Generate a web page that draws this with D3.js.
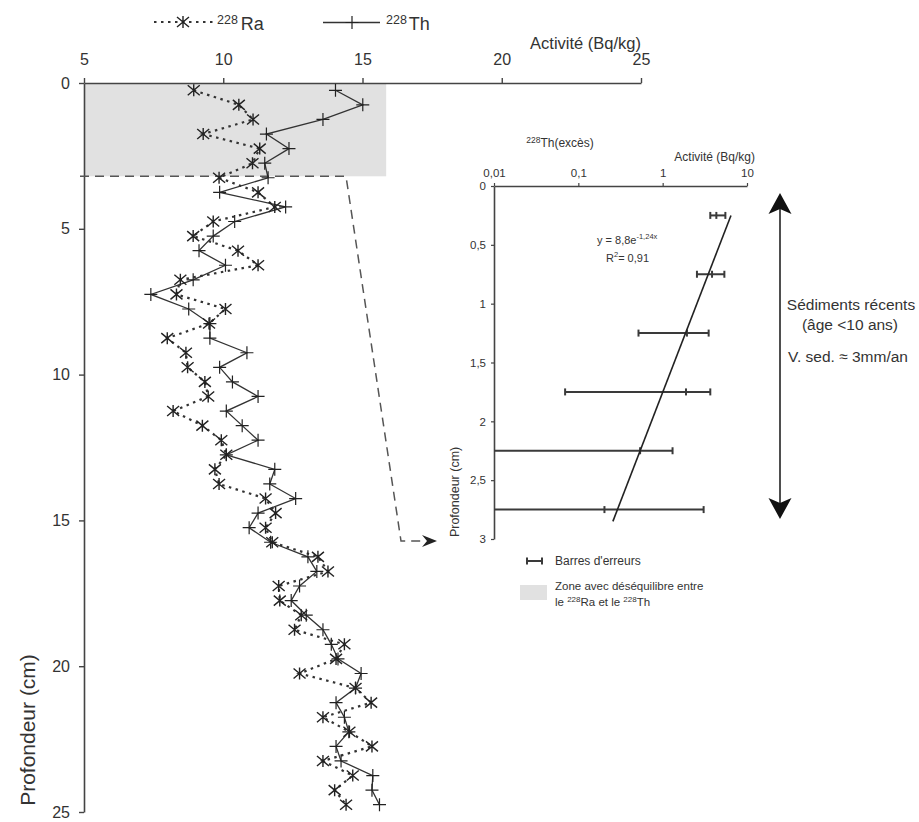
<!DOCTYPE html>
<html><head><meta charset="utf-8">
<script src="https://cdn.jsdelivr.net/npm/d3@7"></script>
<style>
body{margin:0;background:#fff}
svg{display:block}
text{font-family:"Liberation Sans",Arial,Helvetica,sans-serif;fill:#333}
</style>
</head><body>
<svg id="c" width="919" height="822"></svg>
<script>
// ---------- main profile data ----------
const depths = [0.25,0.75,1.25,1.75,2.25,2.75,3.25,3.75,4.25,4.75,5.25,5.75,6.25,6.75,7.25,7.75,8.25,8.75,9.25,9.75,
  10.25,10.75,11.25,11.75,12.25,12.75,13.25,13.75,14.25,14.75,15.25,15.75,16.25,16.75,17.25,17.75,18.25,18.75,19.25,19.75,
  20.25,20.75,21.25,21.75,22.25,22.75,23.25,23.75,24.25,24.75];
const ra228 = [8.94,10.56,11.07,9.28,11.31,11.05,9.85,11.25,11.85,9.64,8.92,10.53,11.25,8.46,8.32,10.08,9.49,7.99,8.66,8.72,
  9.34,9.46,8.20,9.25,9.93,10.11,9.70,9.85,11.52,11.88,11.52,11.76,13.40,13.76,11.99,12.03,12.80,12.56,14.35,14.05,
  12.74,14.75,15.31,13.58,14.53,15.34,13.58,14.65,14.00,14.41];
const th228 = [14.03,15.01,13.58,11.55,12.36,11.49,11.61,9.87,12.24,10.41,9.64,9.13,10.08,8.92,7.40,8.76,9.52,9.52,10.85,9.87,
  10.33,11.25,10.11,10.68,11.25,10.11,11.85,11.67,12.60,11.25,10.93,11.70,13.04,13.36,12.74,12.44,12.98,13.58,13.88,14.12,
  14.95,14.75,14.05,14.35,14.51,14.05,14.23,15.37,15.34,15.61];
const xTicks = [5,10,15,20,25];
const yTicks = [0,5,10,15,20,25];
const zoneDepth = 3.2;       // grey zone bottom (cm)
const zoneActivity = 15.85;  // grey zone right edge (Bq/kg)

// ---------- inset: 228Th excess ----------
const excDepth = [0.25,0.75,1.25,1.75,2.25,2.75];
const excValue = [4.33,3.85,1.94,1.89,0.54,0.204];
const excLow   = [3.67,2.55,0.517,0.0697,null,null];   // null: below axis minimum
const excHigh  = [5.54,5.39,3.51,3.67,1.31,3.06];
const fitA = 8.8, fitB = -1.24;
const fitDepths = [0.25,2.85];
const insetXTicks = [0.01,0.1,1,10];
const insetXLabels = ["0,01","0,1","1","10"];
const insetYTicks = [0,0.5,1,1.5,2,2.5,3];
const insetYLabels = ["0","0,5","1","1,5","2","2,5","3"];

const svg = d3.select("#c");
const ink = "#333";

// ---------- main scales ----------
const x = d3.scaleLinear().domain([5,25]).range([84,641]);
const y = d3.scaleLinear().domain([0,25]).range([83,812]);

// grey zone
svg.append("rect")
  .attr("x", x(5)).attr("y", y(0))
  .attr("width", x(zoneActivity)-x(5)).attr("height", y(zoneDepth)-y(0))
  .attr("fill","#e1e1e1");

// axes
const gx = svg.append("g").attr("transform",`translate(0,${y(0)})`)
  .call(d3.axisTop(x).tickValues(xTicks).tickSize(5).tickSizeOuter(0).tickPadding(13));
const gy = svg.append("g").attr("transform",`translate(${x(5)},0)`)
  .call(d3.axisLeft(y).tickValues(yTicks).tickSize(5).tickSizeOuter(0).tickPadding(9));
[gx,gy].forEach(g=>{
  g.select(".domain").attr("stroke","#444").attr("stroke-width",1.6);
  g.selectAll(".tick line").attr("stroke","#444").attr("stroke-width",1.4);
  g.selectAll(".tick text").attr("fill",ink).style("font-size","16px").style("font-family",'"Liberation Sans",Arial,sans-serif');
});

svg.append("text").attr("x",641).attr("y",49).attr("text-anchor","end")
  .style("font-size","16.5px").text("Activité (Bq/kg)");
svg.append("text").attr("transform","translate(35,730) rotate(-90)").attr("text-anchor","middle")
  .style("font-size","21px").text("Profondeur (cm)");

// dashed connector to the inset
const ix = d3.scaleLog().domain([0.01,10]).range([494,747]);
const iy = d3.scaleLinear().domain([0,3]).range([186,539]);
const cx0 = 346, cyTop = y(zoneDepth), cyBot = iy(3)+2;
svg.append("path")
  .attr("d",`M${x(5)-4},${cyTop} L${cx0},${cyTop} L${cx0+55},${cyBot} L${ix(0.01)-71},${cyBot}`)
  .attr("fill","none").attr("stroke","#555").attr("stroke-width",1.5).attr("stroke-dasharray","9,6");
{
  const tx = ix(0.01)-57, ty = cyBot;
  svg.append("path").attr("d",`M${tx},${ty} L${tx-15},${ty-6} L${tx-10},${ty} L${tx-15},${ty+6} Z`).attr("fill","#222");
}

// lines
const pts = (arr)=>arr.map((v,i)=>[v,depths[i]]);
const line = d3.line().x(d=>x(d[0])).y(d=>y(d[1]));
svg.append("path").attr("d",line(pts(ra228))).attr("fill","none")
  .attr("stroke",ink).attr("stroke-width",2.2).attr("stroke-dasharray","2.5,4.5");
svg.append("path").attr("d",line(pts(th228))).attr("fill","none")
  .attr("stroke",ink).attr("stroke-width",1.3);

// markers
function star(g){ g.append("path").attr("d","M-6,-5L6,5M-6,5L6,-5M0,-6L0,6").attr("stroke","#222").attr("stroke-width",1.4).attr("fill","none"); }
function plus(g){ g.append("path").attr("d","M-6.5,0L6.5,0M0,-6.5L0,6.5").attr("stroke","#222").attr("stroke-width",1.2).attr("fill","none"); }
svg.append("g").selectAll("g").data(pts(ra228)).join("g")
  .attr("transform",d=>`translate(${x(d[0])},${y(d[1])})`).each(function(){star(d3.select(this));});
svg.append("g").selectAll("g").data(pts(th228)).join("g")
  .attr("transform",d=>`translate(${x(d[0])},${y(d[1])})`).each(function(){plus(d3.select(this));});

// main legend
{
  const lg = svg.append("g");
  lg.append("line").attr("x1",154).attr("x2",213).attr("y1",22).attr("y2",22)
    .attr("stroke",ink).attr("stroke-width",2.2).attr("stroke-dasharray","2.5,4.5");
  star(lg.append("g").attr("transform","translate(183,22)"));
  const t1 = lg.append("text").attr("x",217).attr("y",30);
  t1.append("tspan").attr("dy",-6).style("font-size","12.5px").text("228");
  t1.append("tspan").attr("dx",3).attr("dy",6).style("font-size","18px").text("Ra");
  lg.append("line").attr("x1",323).attr("x2",380).attr("y1",22.5).attr("y2",22.5)
    .attr("stroke",ink).attr("stroke-width",1.3);
  plus(lg.append("g").attr("transform","translate(352,22.5)"));
  const t2 = lg.append("text").attr("x",386).attr("y",30);
  t2.append("tspan").attr("dy",-6).style("font-size","12.5px").text("228");
  t2.append("tspan").attr("dx",2).attr("dy",6).style("font-size","18px").text("Th");
}

// ---------- inset ----------
const igx = svg.append("g").attr("transform",`translate(0,${iy(0)})`)
  .call(d3.axisTop(ix).tickValues(insetXTicks).tickFormat((d,i)=>insetXLabels[i]).tickSize(3).tickSizeOuter(0).tickPadding(6));
const igy = svg.append("g").attr("transform",`translate(${ix(0.01)},0)`)
  .call(d3.axisLeft(iy).tickValues(insetYTicks).tickFormat((d,i)=>insetYLabels[i]).tickSize(3).tickSizeOuter(0).tickPadding(5));
[igx,igy].forEach(g=>{
  g.select(".domain").attr("stroke","#444").attr("stroke-width",1.6);
  g.selectAll(".tick line").attr("stroke","#444").attr("stroke-width",1.2);
  g.selectAll(".tick text").attr("fill",ink).style("font-size","11.5px").style("font-family",'"Liberation Sans",Arial,sans-serif');
});
{
  const t = svg.append("text").attr("x",560).attr("y",147).attr("text-anchor","middle");
  t.append("tspan").attr("dy",-4).style("font-size","8.5px").text("228");
  t.append("tspan").attr("dy",4).style("font-size","12px").text("Th(excès)");
}
svg.append("text").attr("x",755).attr("y",161).attr("text-anchor","end").style("font-size","12px").text("Activité (Bq/kg)");
svg.append("text").attr("transform",`translate(459,${iy(2.6)}) rotate(-90)`).attr("text-anchor","middle")
  .style("font-size","12.5px").text("Profondeur (cm)");

// error bars
const eb = svg.append("g").attr("stroke","#3a3a3a").attr("stroke-width",2).attr("fill","none");
excDepth.forEach((d,i)=>{
  const yy = iy(d);
  const lo = excLow[i]===null ? ix.range()[0] : ix(excLow[i]);
  const hi = ix(excHigh[i]);
  eb.append("line").attr("x1",lo).attr("x2",hi).attr("y1",yy).attr("y2",yy);
  if (excLow[i]!==null) eb.append("line").attr("x1",lo).attr("x2",lo).attr("y1",yy-3.5).attr("y2",yy+3.5);
  eb.append("line").attr("x1",hi).attr("x2",hi).attr("y1",yy-3.5).attr("y2",yy+3.5);
  eb.append("line").attr("x1",ix(excValue[i])).attr("x2",ix(excValue[i])).attr("y1",yy-3.5).attr("y2",yy+3.5);
});
// fitted exponential (straight on log axis)
svg.append("line")
  .attr("x1",ix(fitA*Math.exp(fitB*fitDepths[0]))).attr("y1",iy(fitDepths[0]))
  .attr("x2",ix(fitA*Math.exp(fitB*fitDepths[1]))).attr("y2",iy(fitDepths[1]))
  .attr("stroke","#222").attr("stroke-width",1.6);
{
  const e = svg.append("text").attr("x",597).attr("y",244).style("font-size","11px");
  e.append("tspan").text("y = 8,8e");
  e.append("tspan").attr("dy",-5).style("font-size","7.5px").text("-1,24x");
  const r = svg.append("text").attr("x",606).attr("y",262).style("font-size","11px");
  r.append("tspan").text("R");
  r.append("tspan").attr("dy",-5).style("font-size","7.5px").text("2");
  r.append("tspan").attr("dy",5).text("= 0,91");
}

// inset legend
{
  const lg = svg.append("g");
  const ly = 561;
  lg.append("line").attr("x1",527).attr("x2",542).attr("y1",ly).attr("y2",ly).attr("stroke","#3a3a3a").attr("stroke-width",2);
  lg.append("line").attr("x1",527).attr("x2",527).attr("y1",ly-3.5).attr("y2",ly+3.5).attr("stroke","#3a3a3a").attr("stroke-width",2);
  lg.append("line").attr("x1",542).attr("x2",542).attr("y1",ly-3.5).attr("y2",ly+3.5).attr("stroke","#3a3a3a").attr("stroke-width",2);
  lg.append("text").attr("x",555).attr("y",565).style("font-size","12px").text("Barres d'erreurs");
  lg.append("rect").attr("x",520).attr("y",585).attr("width",27).attr("height",15).attr("fill","#e1e1e1");
  lg.append("text").attr("x",555).attr("y",590).style("font-size","11.5px").text("Zone avec déséquilibre entre");
  const t = lg.append("text").attr("x",555).attr("y",606).style("font-size","11.5px");
  t.append("tspan").text("le ");
  t.append("tspan").attr("dy",-4).style("font-size","8px").text("228");
  t.append("tspan").attr("dy",4).text("Ra et le ");
  t.append("tspan").attr("dy",-4).style("font-size","8px").text("228");
  t.append("tspan").attr("dy",4).text("Th");
}

// right double arrow + text
{
  const ax = 780, top = 193, bot = 519;
  svg.append("line").attr("x1",ax).attr("x2",ax).attr("y1",top+10).attr("y2",bot-10).attr("stroke","#222").attr("stroke-width",1.6);
  svg.append("path").attr("d",`M${ax},${top} L${ax+11.5},${top+21} L${ax},${top+16} L${ax-11.5},${top+21} Z`).attr("fill","#111");
  svg.append("path").attr("d",`M${ax},${bot} L${ax+11.5},${bot-21} L${ax},${bot-16} L${ax-11.5},${bot-21} Z`).attr("fill","#111");
  svg.append("text").attr("x",851).attr("y",310).attr("text-anchor","middle").style("font-size","15.5px").text("Sédiments récents");
  svg.append("text").attr("x",850).attr("y",330).attr("text-anchor","middle").style("font-size","15.5px").text("(âge <10 ans)");
  svg.append("text").attr("x",848).attr("y",362).attr("text-anchor","middle").style("font-size","15.5px").text("V. sed. ≈ 3mm/an");
}
</script>
</body></html>
